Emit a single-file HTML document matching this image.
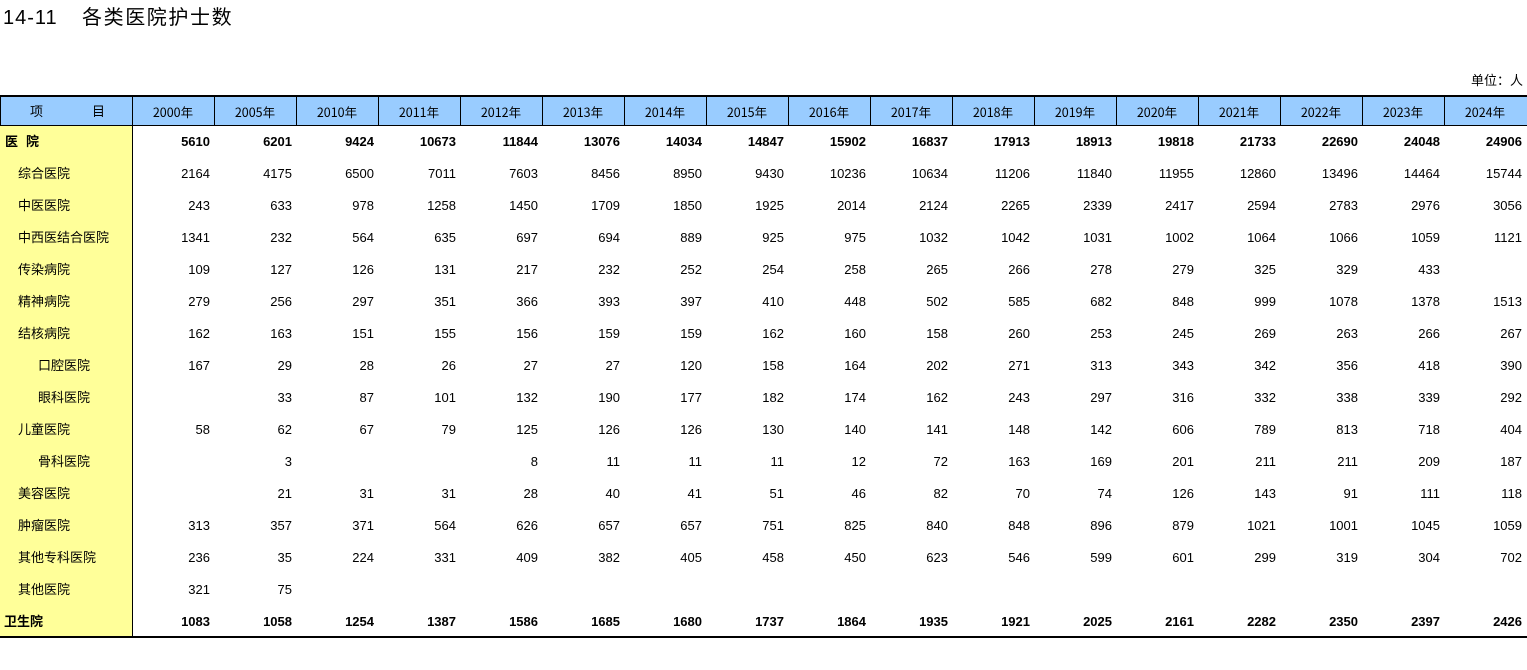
<!DOCTYPE html>
<html>
<head>
<meta charset="utf-8">
<style>
  html,body{margin:0;padding:0;background:#fff;}
  body{width:1527px;height:670px;position:relative;overflow:hidden;font-family:"Liberation Sans","Noto Sans CJK SC",sans-serif;color:#000;}
  .abs{position:absolute;}
  .title{position:absolute;top:5px;font-size:20px;line-height:26px;font-family:"Liberation Sans","Noto Sans CJK SC",sans-serif;}
  .unit{position:absolute;top:72px;right:4px;font-size:13px;line-height:18px;}
  .hdrbg{position:absolute;left:0;top:97px;width:1527px;height:28px;background:#99CCFF;}
  .yel{position:absolute;left:0;top:126px;width:132px;height:510px;background:#FFFF99;}
  .line{position:absolute;background:#000;}
  table{position:absolute;left:0;border-collapse:collapse;table-layout:fixed;width:1526px;}
  td{padding:0;white-space:nowrap;overflow:visible;}
  #hdr{top:97px;}
  #hdr td{height:28px;line-height:27px;text-align:center;font-size:12.5px;font-family:"Noto Sans CJK SC","Liberation Sans",sans-serif;}
  #body{top:126px;}
  #body td{height:32px;text-align:right;padding-right:4px;font-size:13px;line-height:32px;}
  #body td.lb{text-align:left;padding-right:0;font-family:"Liberation Sans","Noto Sans CJK SC",sans-serif;}
  #body tr.b td{font-weight:bold;}
  .i1{padding-left:18px !important;}
  .i2{padding-left:38px !important;}
  .i0{padding-left:5px !important;}
</style>
</head>
<body>
<div class="title" style="left:3px;letter-spacing:1px;">14-11</div>
<div class="title" style="left:82px;letter-spacing:1.6px;">各类医院护士数</div>
<div class="unit">单位：人</div>

<div class="hdrbg"></div>
<div class="yel"></div>
<div class="line" style="left:0;top:95px;width:1527px;height:2px;"></div>
<div class="line" style="left:0;top:125px;width:1527px;height:1px;"></div>
<div class="line" style="left:0;top:636px;width:1527px;height:2px;"></div>
<div class="line" style="left:132px;top:97px;width:1px;height:539px;"></div>
<div class="line" style="left:0;top:97px;width:1px;height:28px;"></div>
<div class="line" style="left:214px;top:97px;width:1px;height:28px;"></div>
<div class="line" style="left:296px;top:97px;width:1px;height:28px;"></div>
<div class="line" style="left:378px;top:97px;width:1px;height:28px;"></div>
<div class="line" style="left:460px;top:97px;width:1px;height:28px;"></div>
<div class="line" style="left:542px;top:97px;width:1px;height:28px;"></div>
<div class="line" style="left:624px;top:97px;width:1px;height:28px;"></div>
<div class="line" style="left:706px;top:97px;width:1px;height:28px;"></div>
<div class="line" style="left:788px;top:97px;width:1px;height:28px;"></div>
<div class="line" style="left:870px;top:97px;width:1px;height:28px;"></div>
<div class="line" style="left:952px;top:97px;width:1px;height:28px;"></div>
<div class="line" style="left:1034px;top:97px;width:1px;height:28px;"></div>
<div class="line" style="left:1116px;top:97px;width:1px;height:28px;"></div>
<div class="line" style="left:1198px;top:97px;width:1px;height:28px;"></div>
<div class="line" style="left:1280px;top:97px;width:1px;height:28px;"></div>
<div class="line" style="left:1362px;top:97px;width:1px;height:28px;"></div>
<div class="line" style="left:1444px;top:97px;width:1px;height:28px;"></div>

<div class="abs" style="left:30px;top:97px;line-height:27px;font-size:13px;font-family:'Noto Sans CJK SC',sans-serif;">项</div>
<div class="abs" style="left:92px;top:97px;line-height:27px;font-size:13px;font-family:'Noto Sans CJK SC',sans-serif;">目</div>

<table id="hdr">
<colgroup><col style="width:132px"><col style="width:82px"><col style="width:82px"><col style="width:82px"><col style="width:82px"><col style="width:82px"><col style="width:82px"><col style="width:82px"><col style="width:82px"><col style="width:82px"><col style="width:82px"><col style="width:82px"><col style="width:82px"><col style="width:82px"><col style="width:82px"><col style="width:82px"><col style="width:82px"><col style="width:82px"></colgroup>
<tr><td></td><td>2000年</td><td>2005年</td><td>2010年</td><td>2011年</td><td>2012年</td><td>2013年</td><td>2014年</td><td>2015年</td><td>2016年</td><td>2017年</td><td>2018年</td><td>2019年</td><td>2020年</td><td>2021年</td><td>2022年</td><td>2023年</td><td>2024年</td></tr>
</table>

<table id="body">
<colgroup><col style="width:132px"><col style="width:82px"><col style="width:82px"><col style="width:82px"><col style="width:82px"><col style="width:82px"><col style="width:82px"><col style="width:82px"><col style="width:82px"><col style="width:82px"><col style="width:82px"><col style="width:82px"><col style="width:82px"><col style="width:82px"><col style="width:82px"><col style="width:82px"><col style="width:82px"><col style="width:82px"></colgroup>
<tr class="b"><td class="lb i0"><span style="letter-spacing:8px;">医</span>院</td><td>5610</td><td>6201</td><td>9424</td><td>10673</td><td>11844</td><td>13076</td><td>14034</td><td>14847</td><td>15902</td><td>16837</td><td>17913</td><td>18913</td><td>19818</td><td>21733</td><td>22690</td><td>24048</td><td>24906</td></tr>
<tr><td class="lb i1">综合医院</td><td>2164</td><td>4175</td><td>6500</td><td>7011</td><td>7603</td><td>8456</td><td>8950</td><td>9430</td><td>10236</td><td>10634</td><td>11206</td><td>11840</td><td>11955</td><td>12860</td><td>13496</td><td>14464</td><td>15744</td></tr>
<tr><td class="lb i1">中医医院</td><td>243</td><td>633</td><td>978</td><td>1258</td><td>1450</td><td>1709</td><td>1850</td><td>1925</td><td>2014</td><td>2124</td><td>2265</td><td>2339</td><td>2417</td><td>2594</td><td>2783</td><td>2976</td><td>3056</td></tr>
<tr><td class="lb i1">中西医结合医院</td><td>1341</td><td>232</td><td>564</td><td>635</td><td>697</td><td>694</td><td>889</td><td>925</td><td>975</td><td>1032</td><td>1042</td><td>1031</td><td>1002</td><td>1064</td><td>1066</td><td>1059</td><td>1121</td></tr>
<tr><td class="lb i1">传染病院</td><td>109</td><td>127</td><td>126</td><td>131</td><td>217</td><td>232</td><td>252</td><td>254</td><td>258</td><td>265</td><td>266</td><td>278</td><td>279</td><td>325</td><td>329</td><td>433</td><td></td></tr>
<tr><td class="lb i1">精神病院</td><td>279</td><td>256</td><td>297</td><td>351</td><td>366</td><td>393</td><td>397</td><td>410</td><td>448</td><td>502</td><td>585</td><td>682</td><td>848</td><td>999</td><td>1078</td><td>1378</td><td>1513</td></tr>
<tr><td class="lb i1">结核病院</td><td>162</td><td>163</td><td>151</td><td>155</td><td>156</td><td>159</td><td>159</td><td>162</td><td>160</td><td>158</td><td>260</td><td>253</td><td>245</td><td>269</td><td>263</td><td>266</td><td>267</td></tr>
<tr><td class="lb i2">口腔医院</td><td>167</td><td>29</td><td>28</td><td>26</td><td>27</td><td>27</td><td>120</td><td>158</td><td>164</td><td>202</td><td>271</td><td>313</td><td>343</td><td>342</td><td>356</td><td>418</td><td>390</td></tr>
<tr><td class="lb i2">眼科医院</td><td></td><td>33</td><td>87</td><td>101</td><td>132</td><td>190</td><td>177</td><td>182</td><td>174</td><td>162</td><td>243</td><td>297</td><td>316</td><td>332</td><td>338</td><td>339</td><td>292</td></tr>
<tr><td class="lb i1">儿童医院</td><td>58</td><td>62</td><td>67</td><td>79</td><td>125</td><td>126</td><td>126</td><td>130</td><td>140</td><td>141</td><td>148</td><td>142</td><td>606</td><td>789</td><td>813</td><td>718</td><td>404</td></tr>
<tr><td class="lb i2">骨科医院</td><td></td><td>3</td><td></td><td></td><td>8</td><td>11</td><td>11</td><td>11</td><td>12</td><td>72</td><td>163</td><td>169</td><td>201</td><td>211</td><td>211</td><td>209</td><td>187</td></tr>
<tr><td class="lb i1">美容医院</td><td></td><td>21</td><td>31</td><td>31</td><td>28</td><td>40</td><td>41</td><td>51</td><td>46</td><td>82</td><td>70</td><td>74</td><td>126</td><td>143</td><td>91</td><td>111</td><td>118</td></tr>
<tr><td class="lb i1">肿瘤医院</td><td>313</td><td>357</td><td>371</td><td>564</td><td>626</td><td>657</td><td>657</td><td>751</td><td>825</td><td>840</td><td>848</td><td>896</td><td>879</td><td>1021</td><td>1001</td><td>1045</td><td>1059</td></tr>
<tr><td class="lb i1">其他专科医院</td><td>236</td><td>35</td><td>224</td><td>331</td><td>409</td><td>382</td><td>405</td><td>458</td><td>450</td><td>623</td><td>546</td><td>599</td><td>601</td><td>299</td><td>319</td><td>304</td><td>702</td></tr>
<tr><td class="lb i1">其他医院</td><td>321</td><td>75</td><td></td><td></td><td></td><td></td><td></td><td></td><td></td><td></td><td></td><td></td><td></td><td></td><td></td><td></td><td></td></tr>
<tr class="b"><td class="lb" style="padding-left:4px;">卫生院</td><td>1083</td><td>1058</td><td>1254</td><td>1387</td><td>1586</td><td>1685</td><td>1680</td><td>1737</td><td>1864</td><td>1935</td><td>1921</td><td>2025</td><td>2161</td><td>2282</td><td>2350</td><td>2397</td><td>2426</td></tr>
</table>
</body>
</html>
